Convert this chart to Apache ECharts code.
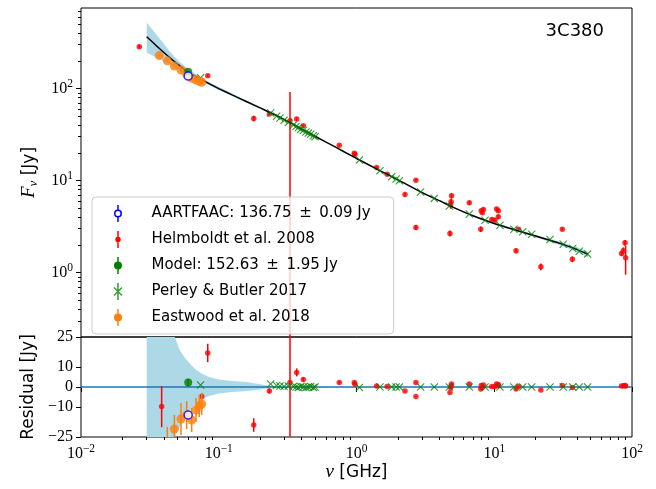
<!DOCTYPE html>
<html>
<head>
<meta charset="utf-8">
<script src="https://cdn.jsdelivr.net/npm/echarts@6/dist/echarts.min.js"></script>
<style>
  html, body { margin: 0; padding: 0; background: #ffffff; }
  #chart { width: 656px; height: 489px; }
</style>
</head>
<body>
<div id="chart"></div>
<script>
// ---------------- data ----------------
// fitted spectral model (GHz, Jy) with its 1-sigma envelope offsets (Jy)
const modelFreq  = [0.030, 0.033, 0.036, 0.040, 0.044, 0.048, 0.052, 0.057, 0.062, 0.068, 0.075, 0.085, 0.10, 0.125, 0.16, 0.20, 0.24, 0.30, 0.40, 0.50, 0.70, 1.0, 1.5, 2.0, 3.0, 4.0, 5.0, 7.0, 10, 15, 20, 30, 40, 48];
const modelFlux  = [366, 320, 284, 246, 217, 194.8, 177.3, 159.1, 146.1, 135.1, 124.7, 113.0, 100, 85.3, 71.8, 61.6, 54.2, 45.9, 36.3, 30.3, 23.2, 17.4, 12.7, 10.2, 7.4, 6.05, 5.15, 4.15, 3.42, 2.84, 2.5, 2.08, 1.78, 1.58];
const modelSigHi = [153, 115, 85, 58, 38, 25, 18.5, 14.5, 11.5, 8.8, 6.8, 5.0, 3.8, 3.0, 2.5, 1.4, 0.5, 0.3, 0.25, 0.2, 0.18, 0.15, 0.13, 0.12, 0.1, 0.09, 0.08, 0.08, 0.08, 0.08, 0.08, 0.09, 0.1, 0.12];
const modelSigLo = [-121, -92, -70, -48, -34, -25, -20, -15, -11.5, -8.5, -6.3, -4.5, -3.3, -2.5, -2.0, -1.2, -0.5, -0.3, -0.25, -0.2, -0.18, -0.15, -0.13, -0.12, -0.1, -0.09, -0.08, -0.08, -0.08, -0.08, -0.08, -0.09, -0.1, -0.12];

const aartfaacFreq  = [0.06];
const aartfaacFlux  = [136.75];
const aartfaacErr   = [0.09];
const aartfaacResid = [-14.0];

const modelPtFreq  = [0.06];
const modelPtFlux  = [152.63];
const modelPtErr   = [1.95];
const modelPtResid = [2.2];

const helmFreq  = [0.0265, 0.0385, 0.0752, 0.0832, 0.1795, 0.233, 0.329, 0.368, 0.411, 0.750, 0.964, 0.975, 1.40, 1.67, 2.25, 2.70, 2.70, 4.77, 4.82, 4.86, 4.90, 6.59, 7.98, 8.05, 8.20, 8.35, 9.60, 10.1, 10.4, 10.7, 10.7, 14.4, 15.0, 21.8, 31.2, 36.9, 84.0, 86.5, 89.0, 89.9];
const helmFlux  = [285, 272, 123, 138, 47.4, 52.8, 44.7, 46.6, 39.5, 24.2, 19.8, 19.3, 13.9, 11.7, 7.08, 10.1, 3.10, 2.67, 5.45, 5.89, 6.85, 5.74, 2.97, 4.70, 4.47, 4.86, 3.78, 3.72, 4.90, 4.70, 4.04, 1.73, 2.97, 1.16, 2.97, 1.40, 1.61, 1.73, 2.11, 1.45];
const helmErr   = [12, 10.3, 1.5, 4.6, 3.4, 1.2, 47.0, 2.0, 1.0, 0.6, 0.6, 0.6, 0.4, 0.3, 0.3, 0.3, 0.2, 0.2, 0.5, 0.5, 0.4, 0.3, 0.2, 0.2, 0.2, 0.2, 0.2, 0.2, 0.2, 0.2, 0.2, 0.1, 0.1, 0.1, 0.1, 0.1, 0.1, 0.15, 0.15, 0.5];
const helmResid = [null, -9.8, -4.8, 17.0, -19.0, -2.0, 2.2, 7.3, 3.8, 2.2, 2.2, 1.4, 0.5, 0.3, -2.0, 2.2, -4.8, -2.7, -0.3, 0.5, 1.5, 1.5, -1.0, 0.8, -0.3, 1.0, 0.2, 0.3, 1.5, 1.2, 0.6, -1.0, 0.2, -1.5, 0.8, -0.3, 0.5, 0.6, 0.8, 0.5];

const pbFreq  = [0.0738, 0.238, 0.263, 0.278, 0.298, 0.320, 0.348, 0.364, 0.378, 0.394, 0.411, 0.430, 0.447, 0.465, 0.486, 0.500, 1.05, 1.48, 1.80, 1.94, 2.05, 2.92, 3.67, 4.72, 6.59, 8.57, 11.0, 13.9, 16.1, 18.7, 25.4, 31.7, 37.1, 41.4, 47.6];
const pbFlux  = [131, 54.3, 50.1, 47.9, 45.3, 42.8, 40.1, 38.6, 37.5, 36.2, 35.1, 33.8, 32.8, 31.8, 30.7, 30.0, 16.7, 12.8, 11.0, 10.4, 9.95, 7.50, 6.41, 5.29, 4.33, 3.72, 3.28, 2.97, 2.78, 2.62, 2.29, 2.04, 1.83, 1.71, 1.59];
const pbResid = [1.0, 1.5, 0.8, 0.5, 0.3, 0.5, 0.2, 0.0, -0.3, 0.2, 0.0, -0.2, 0.0, 0.3, -0.2, 0.0, -0.3, 0.0, 0.0, 0.0, 0.0, 0.0, 0.0, 0.0, 0.0, 0.0, 0.0, 0.0, 0.0, 0.0, 0.0, 0.0, 0.0, 0.0, 0.0];

const eastFreq  = [0.0370, 0.0423, 0.0476, 0.0532, 0.0585, 0.0636, 0.0684, 0.0722, 0.0752];
const eastFlux  = [228, 200, 176, 159, 143, 129, 124, 120, 117];
const eastErr   = [9, 6, 7, 8, 7, 6, 6, 5.5, 5.5];
const eastResid = [-46, -26, -21, -16, -14, -16.5, -11.5, -9.5, -8.5];

const resZero = 0;

// axis ticks
const xTicks      = [0.01, 0.1, 1, 10, 100];
const xMinorTicks = [0.02, 0.03, 0.04, 0.05, 0.06, 0.07, 0.08, 0.09, 0.2, 0.3, 0.4, 0.5, 0.6, 0.7, 0.8, 0.9, 2, 3, 4, 5, 6, 7, 8, 9, 20, 30, 40, 50, 60, 70, 80, 90];
const yTopTicks      = [1, 10, 100];
const yTopMinorTicks = [0.2, 0.3, 0.4, 0.5, 0.6, 0.7, 0.8, 0.9, 2, 3, 4, 5, 6, 7, 8, 9, 20, 30, 40, 50, 60, 70, 80, 90, 200, 300, 400, 500, 600, 700];
const yResTicks      = [-25, -10, 0, 10, 25];

// legend entries
const labels = {
  aartfaac: 'AARTFAAC: 136.75\u2002\u00b1\u20020.09 Jy',
  helm:     'Helmboldt et al. 2008',
  model:    'Model: 152.63\u2002\u00b1\u20021.95 Jy',
  pb:       'Perley & Butler 2017',
  east:     'Eastwood et al. 2018'
};

// ---------------- styling helpers ----------------
const SERIF = '"Liberation Serif", "DejaVu Serif", serif';
const SANS  = '"DejaVu Sans", sans-serif';
const RED = '#ff0000', GREEN = '#008000', BLUE = '#0000ff', ORANGE = '#ff7f0e', BAND = '#add8e6';

const powRich = {
  b: { fontFamily: SERIF, fontSize: 16, lineHeight: 22, color: '#000' },
  s: { fontFamily: SERIF, fontSize: 11.5, lineHeight: 12, verticalAlign: 'top', color: '#000' }
};
function powLabel(v) {
  const e = Math.round(Math.log10(v));
  return '{b|10}{s|' + (e < 0 ? '\u2212' + (-e) : e) + '}';
}

const X_PATH = 'path://M0.05,0.99 L0.99,0.05 L5,4.06 L9.01,0.05 L9.95,0.99 L5.94,5 L9.95,9.01 L9.01,9.95 L5,5.94 L0.99,9.95 L0.05,9.01 L4.06,5 Z';

const ICON_DOT_BIG   = 'path://M37.5,0 L52.5,0 L52.5,170 L37.5,170 Z M45,45 A40,40 0 1,1 44.99,45 Z';
const ICON_DOT_SMALL = 'path://M37.5,0 L52.5,0 L52.5,170 L37.5,170 Z M45,58 A27,27 0 1,1 44.99,58 Z';
const ICON_RING      = 'path://M37.5,0 L52.5,0 L52.5,45 L37.5,45 Z M37.5,125 L52.5,125 L52.5,170 L37.5,170 Z M45,45 A40,40 0 1,1 44.99,45 Z M45,60 A25,25 0 1,0 45.01,60 Z';
const ICON_CROSS     = 'path://M37.5,0 L52.5,0 L52.5,170 L37.5,170 Z M9.95,40.05 L89.95,120.05 L80.05,129.95 L0.05,49.95 Z M89.95,49.95 L9.95,129.95 L0.05,120.05 L80.05,40.05 Z';

function pts(xs, ys) {
  const out = [];
  xs.forEach((x, i) => { if (ys[i] != null) out.push([x, ys[i]]); });
  return out;
}
function bars(xs, ys, es, floor) {
  const out = [];
  xs.forEach((x, i) => {
    if (ys[i] == null) return;
    let lo = ys[i] - es[i];
    if (floor != null) lo = Math.max(lo, floor);
    out.push([x, lo, ys[i] + es[i]]);
  });
  return out;
}
function errSeries(name, data, color, xi, yi, z) {
  return {
    type: 'custom', name: name, xAxisIndex: xi, yAxisIndex: yi, clip: true, silent: true, z: z,
    data: data,
    renderItem: function (params, api) {
      const a = api.coord([api.value(0), api.value(1)]);
      const b = api.coord([api.value(0), api.value(2)]);
      return { type: 'line', shape: { x1: a[0], y1: a[1], x2: b[0], y2: b[1] },
               style: { stroke: color, lineWidth: 1.5 } };
    }
  };
}
function bandSeries(data, xi, yi) {
  return {
    type: 'custom', xAxisIndex: xi, yAxisIndex: yi, clip: true, silent: true, z: 1,
    data: data,
    renderItem: function (params, api) {
      if (params.dataIndex !== 0) return null;
      const up = data.map(d => api.coord([d[0], d[2]]));
      const dn = data.map(d => api.coord([d[0], d[1]])).reverse();
      return { type: 'polygon', shape: { points: up.concat(dn) }, style: { fill: BAND } };
    }
  };
}
function scatter(name, data, xi, yi, sym, size, itemStyle, z) {
  return { type: 'scatter', name: name, xAxisIndex: xi, yAxisIndex: yi, data: data, symbol: sym,
           symbolSize: size, itemStyle: itemStyle, z: z, clip: true, silent: true };
}

// ---------------- series ----------------
const series = [];
// upper panel (Helmboldt points sit beneath the envelope here)
series.push(errSeries(labels.helm, bars(helmFreq, helmFlux, helmErr, 0.01), RED, 0, 0, 0.8));
series.push(scatter(labels.helm, pts(helmFreq, helmFlux), 0, 0, 'circle', 5.5, { color: RED }, 0.8));
series.push(bandSeries(modelFreq.map((f, i) => [f, modelFlux[i] + modelSigLo[i], modelFlux[i] + modelSigHi[i]]), 0, 0));
series.push({ type: 'line', xAxisIndex: 0, yAxisIndex: 0, data: pts(modelFreq, modelFlux), showSymbol: false,
              smooth: 0.2, lineStyle: { color: '#000', width: 1.5 }, z: 2, silent: true });
series.push(scatter(labels.pb, pts(pbFreq, pbFlux), 0, 0, X_PATH, 8, { color: GREEN }, 4));
series.push(errSeries(labels.east, bars(eastFreq, eastFlux, eastErr, 0.01), ORANGE, 0, 0, 5));
series.push(scatter(labels.east, pts(eastFreq, eastFlux), 0, 0, 'circle', 9, { color: ORANGE }, 5));
series.push(errSeries(labels.model, bars(modelPtFreq, modelPtFlux, modelPtErr, 0.01), GREEN, 0, 0, 6));
series.push(scatter(labels.model, pts(modelPtFreq, modelPtFlux), 0, 0, 'circle', 8, { color: GREEN }, 6));
series.push(errSeries(labels.aartfaac, bars(aartfaacFreq, aartfaacFlux, aartfaacErr, 0.01), BLUE, 0, 0, 7));
series.push(scatter(labels.aartfaac, pts(aartfaacFreq, aartfaacFlux), 0, 0, 'circle', 8,
                    { color: '#ffffff', borderColor: BLUE, borderWidth: 1.5 }, 7));

// residual panel
series.push(bandSeries(modelFreq.map((f, i) => [f, modelSigLo[i], modelSigHi[i]]), 1, 2));
series.push({
  type: 'custom', xAxisIndex: 1, yAxisIndex: 2, silent: true, z: 1.5, data: [[1, resZero]],
  renderItem: function (params, api) {
    const cs = params.coordSys;
    const y = api.coord([api.value(0), api.value(1)])[1];
    return { type: 'line', shape: { x1: cs.x, y1: y, x2: cs.x + cs.width, y2: y },
             style: { stroke: '#1f77b4', lineWidth: 1.5 } };
  }
});
series.push(errSeries(labels.helm, bars(helmFreq, helmResid, helmErr), RED, 1, 2, 3));
series.push(scatter(labels.helm, pts(helmFreq, helmResid), 1, 2, 'circle', 5.5, { color: RED }, 3));
series.push(scatter(labels.pb, pts(pbFreq, pbResid), 1, 2, X_PATH, 8, { color: GREEN }, 4));
series.push(errSeries(labels.east, bars(eastFreq, eastResid, eastErr), ORANGE, 1, 2, 5));
series.push(scatter(labels.east, pts(eastFreq, eastResid), 1, 2, 'circle', 9, { color: ORANGE }, 5));
series.push(errSeries(labels.model, bars(modelPtFreq, modelPtResid, modelPtErr), GREEN, 1, 2, 6));
series.push(scatter(labels.model, pts(modelPtFreq, modelPtResid), 1, 2, 'circle', 8, { color: GREEN }, 6));
series.push(errSeries(labels.aartfaac, bars(aartfaacFreq, aartfaacResid, aartfaacErr), BLUE, 1, 2, 7));
series.push(scatter(labels.aartfaac, pts(aartfaacFreq, aartfaacResid), 1, 2, 'circle', 8,
                    { color: '#ffffff', borderColor: BLUE, borderWidth: 1.5 }, 7));

// ---------------- axes ----------------
const tickLine = { color: '#000', width: 1 };
function hiddenLabel() { return { show: false }; }

const option = {
  animation: false,
  backgroundColor: '#ffffff',
  title: {
    text: '3C380', right: 52, top: 22, padding: 0,
    textStyle: { fontFamily: SANS, fontSize: 18, fontWeight: 'normal', color: '#000' }
  },
  grid: [
    { left: 81, top: 8, width: 551, height: 329, show: true, borderColor: '#000', borderWidth: 1, backgroundColor: 'transparent' },
    { left: 81, top: 337, width: 551, height: 100, show: true, borderColor: '#000', borderWidth: 1, backgroundColor: 'transparent' }
  ],
  xAxis: [
    { gridIndex: 0, type: 'log', min: 0.01, max: 100, position: 'bottom',
      axisLine: { show: false }, axisTick: { show: false }, axisLabel: hiddenLabel(), splitLine: { show: false } },
    { gridIndex: 1, type: 'log', min: 0.01, max: 100, position: 'bottom',
      axisLine: { show: false }, splitLine: { show: false },
      axisTick: { show: true, inside: false, length: 5, lineStyle: tickLine, customValues: xTicks },
      axisLabel: { show: true, margin: 6, customValues: xTicks, formatter: powLabel, rich: powRich },
      name: '{v|\u03bd}{t| [GHz]}', nameLocation: 'middle', nameGap: 22,
      nameTextStyle: { rich: {
        v: { fontFamily: SERIF, fontStyle: 'italic', fontSize: 19, color: '#000' },
        t: { fontFamily: SANS, fontSize: 17, color: '#000' } } } },
    { gridIndex: 1, type: 'log', min: 0.01, max: 100, position: 'bottom',
      axisLine: { show: false }, splitLine: { show: false }, axisLabel: hiddenLabel(),
      axisTick: { show: true, inside: false, length: 3, lineStyle: tickLine, customValues: xMinorTicks } }
  ],
  yAxis: [
    { gridIndex: 0, type: 'log', min: 0.2, max: 750, position: 'left',
      axisLine: { show: false }, splitLine: { show: false },
      axisTick: { show: true, inside: false, length: 5, lineStyle: tickLine, customValues: yTopTicks },
      axisLabel: { show: true, margin: 8, customValues: yTopTicks, formatter: powLabel, rich: powRich },
      name: '{f|F}{n|\u03bd}{t| [Jy]}', nameLocation: 'middle', nameRotate: 90, nameGap: 34,
      nameTextStyle: { rich: {
        f: { fontFamily: SERIF, fontStyle: 'italic', fontSize: 19, lineHeight: 22, color: '#000' },
        n: { fontFamily: SERIF, fontStyle: 'italic', fontSize: 13, lineHeight: 22, verticalAlign: 'bottom', color: '#000' },
        t: { fontFamily: SANS, fontSize: 17, lineHeight: 22, color: '#000' } } } },
    { gridIndex: 0, type: 'log', min: 0.2, max: 750, position: 'left',
      axisLine: { show: false }, splitLine: { show: false }, axisLabel: hiddenLabel(),
      axisTick: { show: true, inside: false, length: 3, lineStyle: tickLine, customValues: yTopMinorTicks } },
    { gridIndex: 1, type: 'value', min: -25, max: 25, position: 'left',
      axisLine: { show: false }, splitLine: { show: false },
      axisTick: { show: true, inside: false, length: 5, lineStyle: tickLine, customValues: yResTicks },
      axisLabel: { show: true, margin: 8, customValues: yResTicks, fontFamily: SERIF, fontSize: 16, color: '#000',
                   formatter: v => (v < 0 ? '\u2212' + (-v) : String(v)) },
      name: 'Residual [Jy]', nameLocation: 'middle', nameRotate: 90, nameGap: 34,
      nameTextStyle: { fontFamily: SANS, fontSize: 17, color: '#000' } }
  ],
  legend: {
    orient: 'vertical', left: 92, top: 197, selectedMode: false,
    padding: [8, 23, 8, 21.5], itemWidth: 17, itemHeight: 17, itemGap: 9,
    backgroundColor: 'rgba(255,255,255,0.8)', borderColor: '#cccccc', borderWidth: 1, borderRadius: 4,
    textStyle: { fontFamily: SANS, fontSize: 15, color: '#000', padding: [0, 0, 0, 20] },
    z: 10,
    data: [
      { name: labels.aartfaac, icon: ICON_RING,      itemStyle: { color: BLUE,   borderWidth: 0 } },
      { name: labels.helm,     icon: ICON_DOT_SMALL, itemStyle: { color: RED,    borderWidth: 0 } },
      { name: labels.model,    icon: ICON_DOT_BIG,   itemStyle: { color: GREEN,  borderWidth: 0 } },
      { name: labels.pb,       icon: ICON_CROSS,     itemStyle: { color: GREEN,  borderWidth: 0 } },
      { name: labels.east,     icon: ICON_DOT_BIG,   itemStyle: { color: ORANGE, borderWidth: 0 } }
    ]
  },
  series: series
};

const chart = echarts.init(document.getElementById('chart'), null, { renderer: 'canvas' });
chart.setOption(option);
</script>
</body>
</html>
